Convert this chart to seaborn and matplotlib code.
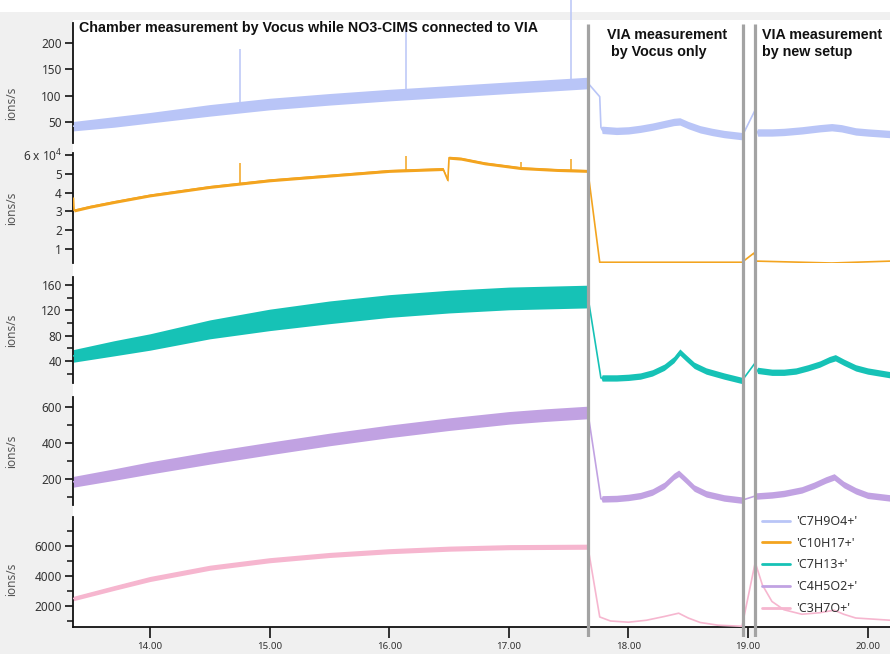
import numpy as np
import matplotlib
matplotlib.use("Agg")
import matplotlib.pyplot as plt
from matplotlib.patches import Rectangle
from matplotlib.lines import Line2D
from matplotlib.ticker import FuncFormatter
import seaborn as sns

# ---------------------------------------------------------------- data
# time of day (h); chamber run until the first switch, then VIA runs
switch_times = [17.66, 18.955, 19.06]

ions = ["'C7H9O4+'", "'C10H17+'", "'C7H13+'", "'C4H5O2+'", "'C3H7O+'"]
colors = ["#b9c5f7", "#f3a41f", "#16c2b6", "#c1a2e2", "#f6b6cf"]

# each record: chamber run, switch, VIA (Vocus only), switch, VIA (new setup)
# n_* is the half-width of the signal noise band
t_c7h9o4 = ([13.36, 13.7, 14.0, 14.5, 15.0, 15.5, 16.0, 16.5, 17.0, 17.3, 17.66]
            + [17.661, 17.76, 17.77]
            + [17.78, 17.9, 18.0, 18.1, 18.2, 18.3, 18.38, 18.43, 18.5, 18.6, 18.7, 18.8, 18.95]
            + [18.951, 19.06, 19.07]
            + [19.08, 19.2, 19.3, 19.45, 19.6, 19.7, 19.78, 19.9, 20.0, 20.19])
v_c7h9o4 = ([42, 50, 58, 72, 84, 93, 101, 108, 115, 119, 124]
            + [124, 98, 40]
            + [35, 33, 34, 37, 41, 46, 50, 51, 44, 36, 31, 27, 23]
            + [23, 73, 32]
            + [30, 30, 31, 34, 38, 40, 38, 32, 30, 27])
n_c7h9o4 = ([9, 10, 10, 11, 11, 11, 11, 11, 11, 11, 11]
            + [0, 0, 0] + [7] * 13 + [0, 0, 0] + [7] * 10)

t_c10h17 = ([13.36, 13.365, 13.5, 13.7, 14.0, 14.5, 15.0, 15.5, 16.0, 16.45, 16.49,
             16.5, 16.6, 16.8, 17.1, 17.4, 17.66]
            + [17.661, 17.76, 18.3, 18.95, 19.05, 19.07, 19.7, 20.19])
v_c10h17 = ([37000, 30500, 32500, 35000, 38500, 43000, 46500, 49000, 51500, 52500, 46500,
             58500, 58000, 55500, 53000, 52000, 51500]
            + [51500, 3000, 3000, 3000, 7900, 3600, 2600, 3600])
n_c10h17 = [0] + [800] * 16 + [0] * 8

t_c7h13 = ([13.36, 13.7, 14.0, 14.5, 15.0, 15.5, 16.0, 16.5, 17.0, 17.66]
           + [17.661, 17.77]
           + [17.78, 17.9, 18.0, 18.1, 18.2, 18.3, 18.38, 18.43, 18.48, 18.55, 18.65, 18.8, 18.95]
           + [18.951, 19.06, 19.07]
           + [19.08, 19.2, 19.3, 19.4, 19.5, 19.6, 19.68, 19.73, 19.8, 19.9, 20.0, 20.19])
v_c7h13 = ([48, 60, 70, 90, 105, 117, 127, 134, 139, 142]
           + [142, 13]
           + [13, 13, 14, 16, 21, 30, 42, 54, 45, 33, 24, 16, 9]
           + [9, 37, 25]
           + [25, 22, 22, 24, 29, 35, 42, 45, 38, 29, 24, 18])
n_c7h13 = ([10, 12, 13, 15, 17, 18, 18, 18, 18, 18]
           + [0, 0] + [5] * 13 + [0, 0, 0] + [5] * 12)

t_c4h5o2 = ([13.36, 13.7, 14.0, 14.5, 15.0, 15.5, 16.0, 16.5, 17.0, 17.3, 17.66]
            + [17.661, 17.77]
            + [17.78, 17.9, 18.0, 18.1, 18.2, 18.3, 18.38, 18.42, 18.48, 18.55, 18.65, 18.8, 18.95]
            + [18.951, 19.06]
            + [19.07, 19.2, 19.3, 19.45, 19.55, 19.65, 19.72, 19.8, 19.9, 20.0, 20.19])
v_c4h5o2 = ([185, 225, 262, 318, 370, 420, 465, 505, 540, 555, 570]
            + [570, 90]
            + [90, 92, 98, 108, 128, 165, 215, 232, 195, 150, 118, 95, 83]
            + [83, 106]
            + [106, 112, 120, 140, 165, 195, 212, 170, 135, 110, 95])
n_c4h5o2 = ([30, 32, 34, 35, 35, 35, 35, 35, 35, 35, 35]
            + [0, 0] + [18] * 13 + [0, 0] + [18] * 11)

t_c3h7o = ([13.36, 13.7, 14.0, 14.5, 15.0, 15.5, 16.0, 16.5, 17.0, 17.66]
           + [17.661, 17.76, 17.85, 18.0, 18.15, 18.3, 18.42, 18.5, 18.6, 18.75, 18.95,
              19.06, 19.12, 19.2, 19.3, 19.45, 19.6, 19.72, 19.8, 19.9, 20.19])
v_c3h7o = ([2500, 3200, 3800, 4550, 5050, 5400, 5650, 5820, 5920, 5950]
           + [5950, 1270, 1000, 920, 1050, 1300, 1520, 1200, 900, 720, 650,
              4900, 3400, 2300, 1750, 1450, 1550, 1720, 1450, 1200, 1050])
n_c3h7o = [150, 160, 170, 170, 170, 170, 170, 170, 170, 170] + [0] * 21

# short spikes in the chamber record (time, peak value)
spike_t_c7h9o4 = [14.75, 16.14, 17.52]
spike_v_c7h9o4 = [188, 238, 292]
spike_t_c10h17 = [14.75, 16.14, 17.1, 17.52]
spike_v_c10h17 = [55700, 59500, 56000, 58000]

series = [
    (t_c7h9o4, v_c7h9o4, n_c7h9o4, spike_t_c7h9o4, spike_v_c7h9o4),
    (t_c10h17, v_c10h17, n_c10h17, spike_t_c10h17, spike_v_c10h17),
    (t_c7h13, v_c7h13, n_c7h13, [], []),
    (t_c4h5o2, v_c4h5o2, n_c4h5o2, [], []),
    (t_c3h7o, v_c3h7o, n_c3h7o, [], []),
]

# ---------------------------------------------------------------- layout
W, H = 890, 654
XL, XR = 73, 890
xlim = (13.356, 20.187)
# panel extents in pixels (top, bottom) and y limits
panels = [
    dict(top=23, bot=143, ylim=(10, 238), major=[50, 100, 150, 200], minor=[]),
    dict(top=153, bot=263, ylim=(2600, 61000), major=[10000, 20000, 30000, 40000, 50000, 60000], minor=[]),
    dict(top=277, bot=383, ylim=(5, 173), major=[40, 80, 120, 160], minor=[20, 60, 100, 140]),
    dict(top=397, bot=505, ylim=(56, 656), major=[200, 400, 600], minor=[100, 300, 500]),
    dict(top=517, bot=627, ylim=(600, 7930), major=[2000, 4000, 6000], minor=[1000, 3000, 5000, 7000]),
]
label_frac = [0.33, 0.5, 0.5, 0.5, 0.43]

sns.set_theme(style="white")
plt.rcParams["font.family"] = ["Noto Sans", "DejaVu Sans"]
plt.rcParams["axes.linewidth"] = 1.2

fig = plt.figure(figsize=(W / 100, H / 100), dpi=100)
fig.patch.set_facecolor("#f0f0f0")


def fx(px):
    return px / W


def fy(py):
    return 1 - py / H


fig.add_artist(Rectangle((0, fy(12)), 1, 12 / H, transform=fig.transFigure,
                         facecolor="white", edgecolor="none", zorder=-10))
fig.add_artist(Rectangle((fx(XL), fy(627)), fx(XR - XL), (627 - 20) / H,
                         transform=fig.transFigure, facecolor="white",
                         edgecolor="none", zorder=-10))

axes = []
for i, (p, (t, v, n, st, sv)) in enumerate(zip(panels, series)):
    ax = fig.add_axes([fx(XL), fy(p["bot"]), fx(XR - XL), (p["bot"] - p["top"]) / H])
    ax.set_facecolor("none")
    t = np.asarray(t, float)
    v = np.asarray(v, float)
    n = np.asarray(n, float)
    ax.fill_between(t, v - n, v + n, color=colors[i], linewidth=0, zorder=2)
    sns.lineplot(x=t, y=v, ax=ax, color=colors[i], linewidth=1.2, zorder=3,
                 legend=False, estimator=None)
    if len(st):
        ax.vlines(st, np.interp(st, t, v), sv, color=colors[i], linewidth=1.1,
                  zorder=3, clip_on=False)
    ax.set_xlim(*xlim)
    ax.set_ylim(*p["ylim"])
    for s in ["top", "right", "bottom"]:
        ax.spines[s].set_visible(False)
    ax.spines["left"].set_color("#111111")
    ax.spines["left"].set_linewidth(1.3)
    ax.set_yticks(p["major"])
    ax.set_yticks(p["minor"], minor=True)
    ax.tick_params(axis="y", which="major", direction="out", length=6, width=1.2,
                   color="#111111", labelsize=8.5, labelcolor="#333333", pad=2, left=True)
    ax.tick_params(axis="y", which="minor", direction="out", length=4, width=1.1,
                   color="#111111", left=True)
    ax.set_ylabel("ions/s", fontsize=8.5, color="#555555")
    ax.yaxis.set_label_coords((18 - XL) / (XR - XL), label_frac[i])
    ax.set_xlabel("")
    if i < 4:
        ax.set_xticks([])
    axes.append(ax)


# the second panel is scaled by 10^4
def c10_fmt(val, pos):
    k = int(round(val / 10000))
    return "6 x 10$\\mathregular{^{4}}$" if k == 6 else str(k)


axes[1].yaxis.set_major_formatter(FuncFormatter(c10_fmt))

axb = axes[-1]
axb.spines["bottom"].set_visible(True)
axb.spines["bottom"].set_color("#111111")
axb.spines["bottom"].set_linewidth(1.3)
axb.set_xticks([14, 15, 16, 17, 18, 19, 20])
axb.xaxis.set_major_formatter(FuncFormatter(lambda x, p: f"{x:.2f}"))
axb.tick_params(axis="x", which="major", direction="out", length=8, width=1.2,
                color="#111111", labelsize=7, labelcolor="#333333", pad=3, bottom=True)

# boundaries between the measurement periods
ov = fig.add_axes([fx(XL), fy(637), fx(XR - XL), (637 - 24) / H])
ov.set_facecolor("none")
ov.set_xlim(*xlim)
ov.set_ylim(0, 1)
ov.axis("off")
ov.vlines(switch_times, 0, 1, color="#a3a3a3", linewidth=2.3)

# period headings
head_font = dict(fontsize=10.3, fontweight="bold", family=["Liberation Sans", "DejaVu Sans"],
                 color="#111111", ha="left")
fig.text(fx(79), fy(28), "Chamber measurement by Vocus while NO3-CIMS connected to VIA",
         va="center", **head_font)
fig.text(fx(607), fy(28), "VIA measurement\n by Vocus only", va="top",
         linespacing=1.25, **head_font)
fig.text(fx(762), fy(28), "VIA measurement\nby new setup", va="top",
         linespacing=1.25, **head_font)

handles = [Line2D([], [], color=c, linewidth=2) for c in colors]
leg = fig.legend(handles, ions, loc="upper left", bbox_to_anchor=(fx(762), fy(515)),
                 frameon=False, fontsize=9, handlelength=2.2, handletextpad=0.5,
                 labelspacing=0.7, borderpad=0, borderaxespad=0)
for txt in leg.get_texts():
    txt.set_color("#333333")

fig.savefig("out.png", dpi=100, facecolor=fig.get_facecolor())
